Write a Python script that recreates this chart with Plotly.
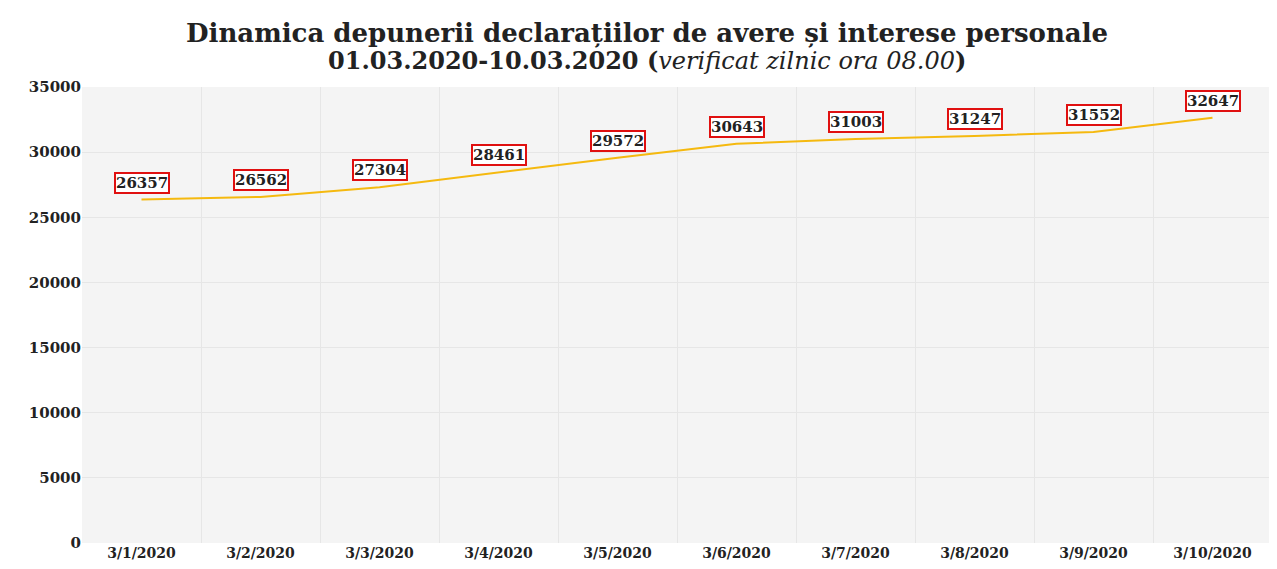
import plotly.graph_objects as go

dates = ["3/1/2020", "3/2/2020", "3/3/2020", "3/4/2020", "3/5/2020",
         "3/6/2020", "3/7/2020", "3/8/2020", "3/9/2020", "3/10/2020"]
values = [26357, 26562, 27304, 28461, 29572, 30643, 31003, 31247, 31552, 32647]
y_ticks = [0, 5000, 10000, 15000, 20000, 25000, 30000, 35000]

title_line1 = "Dinamica depunerii declarațiilor de avere și interese personale"
title_line2a = "01.03.2020-10.03.2020 ("
title_line2b = "verificat zilnic ora 08.00"
title_line2c = ")"

serif = "Georgia, 'DejaVu Serif', 'Liberation Serif', serif"
dark = "#222222"

fig = go.Figure()
fig.add_trace(go.Scatter(
    x=dates, y=values, mode="lines",
    line=dict(color="#f5b90f", width=2),
    hoverinfo="x+y", showlegend=False,
))

for d, v in zip(dates, values):
    fig.add_annotation(
        x=d, y=v, text=f"<b>{v}</b>", showarrow=False, yshift=17,
        font=dict(family=serif, size=15, color=dark),
        bgcolor="white", bordercolor="#e01010", borderwidth=2, borderpad=0,
    )

fig.add_annotation(
    xref="paper", yref="paper", x=0.5, y=1, xanchor="center", yanchor="middle",
    xshift=-30, yshift=87 - 33, text=f"<b>{title_line1}</b>", showarrow=False,
    font=dict(family=serif, size=26, color=dark),
)
fig.add_annotation(
    xref="paper", yref="paper", x=0.5, y=1, xanchor="center", yanchor="middle",
    xshift=-30, yshift=87 - 60,
    text=f"<b>{title_line2a}</b><i>{title_line2b}</i><b>{title_line2c}</b>",
    showarrow=False,
    font=dict(family=serif, size=24, color=dark),
)

# page body has an 8px margin: size/margins compensate so the plot area
# lands at x 82..1272, y 87..543 in the window
fig.update_layout(
    width=1269, height=561,
    margin=dict(l=74, r=5, t=79, b=26, autoexpand=False),
    paper_bgcolor="white",
    plot_bgcolor="#f4f4f4",
    xaxis=dict(
        type="category", categoryorder="array", categoryarray=dates,
        range=[-0.5, 9.5],
        tickson="boundaries", ticks="", showgrid=True, gridcolor="#e6e6e6", gridwidth=1,
        tickfont=dict(family=serif, size=14, color=dark, weight="bold"),
        showline=False, zeroline=False,
    ),
    yaxis=dict(
        range=[0, 35000], tickvals=y_ticks, ticktext=[str(t) for t in y_ticks],
        showgrid=True, gridcolor="#e6e6e6", gridwidth=1, zeroline=False,
        tickfont=dict(family=serif, size=15, color=dark, weight="bold"),
        ticks="", showline=False,
    ),
)

fig.write_html("out.html")
